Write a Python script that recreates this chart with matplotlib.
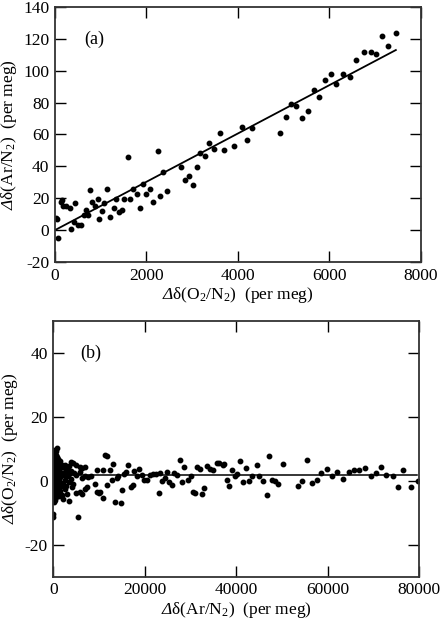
import matplotlib
matplotlib.use("Agg")
import matplotlib.pyplot as plt

plt.rcParams['font.family'] = ['Liberation Serif', 'DejaVu Serif']
plt.rcParams['mathtext.fontset'] = 'custom'
plt.rcParams['mathtext.rm'] = 'Liberation Serif'
plt.rcParams['mathtext.it'] = 'Liberation Serif:italic'
# italic capital delta: the 'it' slot forces capital greek upright, so use sf
plt.rcParams['mathtext.sf'] = 'Liberation Serif:italic'
plt.rcParams['axes.unicode_minus'] = False

# (a) d(O2/N2) vs d(Ar/N2)
a_x = [15, 50, 66, 124, 160, 183, 234, 321, 343, 431, 409, 511, 570, 636, 687, 731,
       767, 818, 877, 935, 964, 1023, 1081, 1132, 1198, 1293, 1337, 1403, 1461, 1512,
       1585, 1644, 1710, 1783, 1856, 1929, 1987, 2082, 2133, 2243, 2301, 2352, 2448,
       2754, 2842, 2922, 3010, 3098, 3178, 3288, 3375, 3485, 3609, 3690, 3923, 4091,
       4194, 4311, 4910, 5041, 5165, 5275, 5392, 5531, 5655, 5765, 5903, 6042, 6152,
       6298, 6444, 6590, 6751, 6897, 7014, 7153, 7284, 7445]
a_y = [7.5, 7.0, -5.0, 17.8, 18.6, 14.9, 15.3, 13.6, 0.6, 16.8, 5.2, 3.1, 3.1, 9.4,
       12.6, 9.6, 25.1, 17.8, 15.3, 19.3, 6.9, 11.9, 16.8, 25.8, 8.0, 13.6, 19.5, 11.1,
       12.8, 19.5, 46.1, 19.3, 25.8, 22.6, 13.6, 28.7, 22.6, 25.8, 17.8, 49.4, 21.6,
       36.4, 24.3, 39.8, 31.4, 34.1, 28.3, 39.8, 48.4, 46.7, 54.9, 50.9, 60.7, 50.3,
       52.6, 64.7, 56.8, 64.1, 60.7, 71.2, 79.2, 77.7, 70.4, 74.6, 88.2, 83.4, 94.0,
       97.8, 91.7, 97.8, 96.3, 106.8, 111.6, 111.6, 110.2, 121.5, 115.8, 124.0]
fit_a_x = [0, 7450]
fit_a_y = [0, 113]

# (b) d(Ar/N2) vs d(O2/N2)
b_x = [0, 0, 0, 0, 0, 0, 0, 0, 0, 0, 0, 0, 0, 0,
       55, 70, 45, 62, 80, 58, 66,
       120, 135, 110, 128, 140, 115,
       200, 215, 190, 222, 205, 185,
       280, 300, 265, 290, 310, 270,
       380, 395, 360, 410, 370, 400,
       500, 520, 480, 530, 490, 515,
       650, 680, 620, 700, 640, 665,
       800, 830, 770, 850, 790, 820,
       1000, 1050, 950, 1080, 980,
       1200, 1250, 1150, 1280, 1220,
       1500, 1550, 1450, 1580, 1520,
       1800, 1850, 1750, 1880,
       2100, 2150, 2050, 2180,
       2500, 2550, 2450, 2580,
       2900, 2950, 2850, 2980,
       3400, 3450, 3350, 3430,
       3900, 3950, 3850, 4000,
       4400, 4450, 4350,
       5000, 5050, 4950,
       5465,
       5800, 5850, 5840,
       6300, 6350, 6200,
       6900, 6950, 6850,
       7500, 7450,
       8160, 9180, 9472, 9618, 9909, 10200, 10783, 10929, 11366, 11658, 11803, 12386,
       12750, 13115, 13479, 13843, 14207, 14717, 15009, 15446, 15883, 16393, 16903,
       17340, 17632, 18215, 18798, 19308, 19818, 20401, 21129, 21858, 22441, 23023,
       23315, 23825, 24408, 24772, 25355, 25865, 26448, 26958, 27687, 28124, 28561,
       29508, 30091, 30601, 30966, 31330, 32059, 32569, 33006, 33661, 34244, 34973,
       35701, 36211, 37012, 37377, 37887, 38470, 38980, 39709, 40219, 40802, 41530,
       42113, 42842, 43352, 44445, 45028, 45902, 46631, 47214, 47724, 48452, 49181,
       50128, 53552, 54354, 55374, 56612, 57560, 58434, 59746, 60839, 61932, 63389,
       64700, 65720, 66886, 68125, 69364, 70457, 71550, 72715, 74173, 75266, 76359,
       78108, 79783]
b_y = [9.5, 8.2, 7.0, 5.5, 4.0, 2.5, 1.0, -0.5, -2.0, -3.5, -5.0, -6.2, -10.5, -11.3,
       9.0, 6.5, 3.8, 0.5, -2.8, -5.8, -6.8,
       8.5, 5.8, 2.9, -0.8, -4.1, -6.5,
       7.6, 4.7, 1.8, -1.5, -3.9, -5.4,
       8.9, 6.2, 3.3, 0.2, -2.4, -4.7,
       7.2, 5.1, 2.2, -0.9, -3.2, -5.9,
       9.2, 6.8, 4.2, 1.2, -1.9, -4.4,
       8.0, 5.5, 2.6, -0.3, -2.9, -5.1,
       10.2, 7.4, 3.6, 0.9, -2.2, -4.0,
       6.8, 4.5, 1.5, -1.2, -3.6,
       5.9, 2.8, 0.4, -2.6, -4.8,
       6.2, 3.9, 1.1, -1.8, -3.3,
       5.0, 2.4, -0.6, -4.5,
       4.2, 1.9, -1.1, -5.6,
       4.8, 2.7, 0.1, -2.5,
       3.6, 1.3, -1.6, -4.3,
       4.5, 2.1, -0.4, -6.4,
       5.8, 3.0, 0.6, -2.1,
       5.6, 2.3, -1.0,
       4.9, 1.7, -3.8,
       -11.5,
       4.4, 2.6, -3.4,
       3.9, 0.8, -4.2,
       4.3, 1.4, -2.6,
       1.0, -1.9,
       1.4, -0.9, 3.2, -3.4, -3.9, -3.6, -5.3, 3.2, 8.0, 7.6, -1.5, 3.2,
       0.3, 5.3, -6.7, 0.8, 1.4, -7.1, -2.8, 2.1, 2.7, 4.8, -2.1,
       -1.5, 2.9, 1.4, 3.5, 1.9, 0.3, 0.3, 1.9, 2.1, 2.1, -3.9,
       2.4, -0.2, 0.8, 2.7, -0.4, -1.5, 2.4, 1.9, 6.5, -0.4, 4.4,
       0.3, 1.6, -3.6, -4.0, 4.4, 3.7, -4.2, -2.3, 4.5, 3.7, 3.2,
       5.6, 5.6, 4.8, 5.3, 0.3, -1.7, 3.2, 1.6, 2.1, 6.1, -0.4,
       4.0, -0.2, 1.6, 4.8, 1.6, -0.2, -4.4, 7.7, 0.3, -0.2, -1.1,
       5.3, -1.6, 0.0, 6.4, -0.7, 0.3, 2.4, 3.7, 1.4, 2.7, 0.5,
       2.7, 3.2, 3.2, 4.0, 1.6, 2.4, 4.4, 1.9, 1.6, -2.1, 3.2,
       -2.1, -0.2]
fit_b_x = [0, 79400]
fit_b_y = [1.8, 1.8]

fig = plt.figure(figsize=(4.42, 6.26), dpi=100)
ax1 = fig.add_axes([0.1244, 0.5815, 0.8281, 0.4073])
ax2 = fig.add_axes([0.1206, 0.0788, 0.8281, 0.4090])

ax1.plot(a_x, a_y, 'ko', ms=3.2, mec='k')
ax1.plot(fit_a_x, fit_a_y, 'k-', lw=1.3)
ax1.set_xlim(0, 8000)
ax1.set_ylim(-20, 140)
ax1.set_xticks(range(0, 8001, 2000))
ax1.set_yticks(range(-20, 141, 20))
ax1.set_xlabel(r'$\mathsf{\Delta}$δ(O$_2$/N$_2$)  (per meg)', fontsize=12.5, labelpad=1)
ax1.set_ylabel(r'$\mathsf{\Delta}$δ(Ar/N$_2$)  (per meg)', fontsize=12.5, labelpad=3)
ax1.text(0.107, 0.875, '(a)', transform=ax1.transAxes, fontsize=13, ha='center', va='center')

ax2.plot(b_x, b_y, 'ko', ms=3.2, mec='k')
ax2.plot(fit_b_x, fit_b_y, 'k-', lw=1.1)
ax2.set_xlim(0, 80000)
ax2.set_ylim(-30, 50)
ax2.set_xticks(range(0, 80001, 20000))
ax2.set_yticks(range(-20, 41, 20))
ax2.set_xlabel(r'$\mathsf{\Delta}$δ(Ar/N$_2$)  (per meg)', fontsize=12.5, labelpad=1)
ax2.set_ylabel(r'$\mathsf{\Delta}$δ(O$_2$/N$_2$)  (per meg)', fontsize=12.5, labelpad=3)
ax2.text(0.103, 0.871, '(b)', transform=ax2.transAxes, fontsize=13, ha='center', va='center')

for ax in (ax1, ax2):
    ax.tick_params(direction='in', length=8, width=1, top=True, right=True,
                   labelsize=12.5, pad=4, colors='k')
    for s in ax.spines.values():
        s.set_linewidth(1.3)
        s.set_color('#333333')

fig.savefig('out.png', dpi=100)
